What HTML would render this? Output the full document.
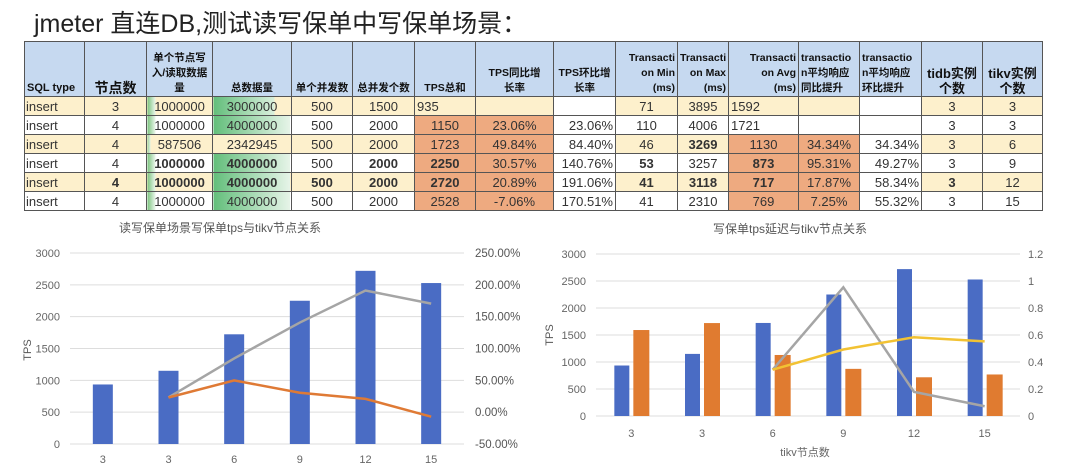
<!DOCTYPE html>
<html><head><meta charset="utf-8"><style>
body{margin:0;width:1080px;height:472px;background:#fff;overflow:hidden;position:relative;font-family:"Liberation Sans","Noto Sans CJK SC",sans-serif}
#title{position:absolute;left:34px;top:4px;font-size:25px;color:#222;white-space:nowrap}
table{position:absolute;left:24px;top:41px;border-collapse:collapse;table-layout:fixed;width:1018px}
td,th{border:1px solid #555;padding:0 2px;font-size:13px;color:#333;height:18px;white-space:nowrap;overflow:hidden;text-align:center}
th{background:#c6d9f0;font-size:10.5px;font-weight:bold;height:54px;vertical-align:bottom;white-space:nowrap;line-height:15px;color:#111}
tr.y td{background:#fdf0cc}
td.l{text-align:left;padding-left:1px}
td.r{text-align:right}
td.o{background:#eeaa80 !important}
td.b{font-weight:bold}
svg{position:absolute;top:215px}
</style></head><body>
<div id="title">jmeter 直连DB,测试读写保单中写保单场景：</div>
<table>
<colgroup><col style="width:60px"><col style="width:62px"><col style="width:66px"><col style="width:79px"><col style="width:61px"><col style="width:62px"><col style="width:61px"><col style="width:78px"><col style="width:62px"><col style="width:62px"><col style="width:51px"><col style="width:70px"><col style="width:61px"><col style="width:62px"><col style="width:61px"><col style="width:60px"></colgroup>
<tr><th style="text-align:left;font-size:11px">SQL type</th><th style="font-size:14px">节点数</th><th>单个节点写<br>入/读取数据<br>量</th><th>总数据量</th><th>单个并发数</th><th>总并发个数</th><th>TPS总和</th><th>TPS同比增<br>长率</th><th>TPS环比增<br>长率</th><th style="text-align:right">Transacti<br>on Min<br>(ms)</th><th style="text-align:right">Transacti<br>on Max<br>(ms)</th><th style="text-align:right">Transacti<br>on Avg<br>(ms)</th><th style="text-align:left">transactio<br>n平均响应<br>同比提升</th><th style="text-align:left">transactio<br>n平均响应<br>环比提升</th><th style="font-size:13px">tidb实例<br>个数</th><th style="font-size:13px">tikv实例<br>个数</th></tr>
<tr class="y"><td class="l">insert</td><td>3</td><td style="background:linear-gradient(90deg,#7cc47f,#eaf5ea 12%,#fdf0cc 12%)">1000000</td><td style="background:linear-gradient(90deg,#63be7b,#d9efdc 78%,#fdf0cc 78%)">3000000</td><td>500</td><td>1500</td><td style="text-align:left">935</td><td></td><td style="background:#fff"></td><td>71</td><td>3895</td><td style="text-align:left">1592</td><td></td><td style="background:#fff"></td><td>3</td><td>3</td></tr>
<tr><td class="l">insert</td><td>4</td><td style="background:linear-gradient(90deg,#7cc47f,#eaf5ea 12%,#fff 12%)">1000000</td><td style="background:linear-gradient(90deg,#63be7b,#e6f4e8 98%,#fff 98%)">4000000</td><td>500</td><td>2000</td><td class="o">1150</td><td class="o">23.06%</td><td class="r">23.06%</td><td>110</td><td>4006</td><td style="text-align:left">1721</td><td></td><td></td><td>3</td><td>3</td></tr>
<tr class="y"><td class="l">insert</td><td>4</td><td style="background:linear-gradient(90deg,#9ad19c,#eaf5ea 5%,#fdf0cc 5%)">587506</td><td>2342945</td><td>500</td><td>2000</td><td class="o">1723</td><td class="o">49.84%</td><td class="r" style="background:#fff">84.40%</td><td>46</td><td class="b">3269</td><td class="o">1130</td><td class="o">34.34%</td><td class="r" style="background:#fff">34.34%</td><td>3</td><td>6</td></tr>
<tr><td class="l">insert</td><td>4</td><td class="b" style="background:linear-gradient(90deg,#7cc47f,#eaf5ea 12%,#fff 12%)">1000000</td><td class="b" style="background:linear-gradient(90deg,#63be7b,#e6f4e8 98%,#fff 98%)">4000000</td><td>500</td><td class="b">2000</td><td class="o b">2250</td><td class="o">30.57%</td><td class="r">140.76%</td><td class="b">53</td><td>3257</td><td class="o b">873</td><td class="o">95.31%</td><td class="r">49.27%</td><td>3</td><td>9</td></tr>
<tr class="y"><td class="l">insert</td><td class="b">4</td><td class="b" style="background:linear-gradient(90deg,#7cc47f,#eaf5ea 12%,#fdf0cc 12%)">1000000</td><td class="b" style="background:linear-gradient(90deg,#63be7b,#e6f4e8 98%,#fdf0cc 98%)">4000000</td><td class="b">500</td><td class="b">2000</td><td class="o b">2720</td><td class="o">20.89%</td><td class="r" style="background:#fff">191.06%</td><td class="b">41</td><td class="b">3118</td><td class="o b">717</td><td class="o">17.87%</td><td class="r" style="background:#fff">58.34%</td><td class="b">3</td><td>12</td></tr>
<tr><td class="l">insert</td><td>4</td><td style="background:linear-gradient(90deg,#7cc47f,#eaf5ea 12%,#fff 12%)">1000000</td><td style="background:linear-gradient(90deg,#63be7b,#e6f4e8 98%,#fff 98%)">4000000</td><td>500</td><td>2000</td><td class="o">2528</td><td class="o">-7.06%</td><td class="r">170.51%</td><td>41</td><td>2310</td><td class="o">769</td><td class="o">7.25%</td><td class="r">55.32%</td><td>3</td><td>15</td></tr>
</table>
<svg id="c1" width="540" height="257" style="left:0"></svg>
<svg id="c2" width="540" height="257" style="left:540px"></svg>
<script>
const cats = ['3','3','6','9','12','15'];
const tps = [935,1150,1723,2250,2720,2528];
const tpsYoY = [null,23.06,49.84,30.57,20.89,-7.06];
const tpsMoM = [null,23.06,84.40,140.76,191.06,170.51];
const avgMs = [1592,1721,1130,873,717,769];
const latYoY = [null,null,0.3434,0.9531,0.1787,0.0725];
const latMoM = [null,null,0.3434,0.4927,0.5832,0.5532];
const leftTicks = [0,500,1000,1500,2000,2500,3000];
const pctTicks = [-50,0,50,100,150,200,250];
const ratioTicks = [0,0.2,0.4,0.6,0.8,1,1.2];
const NS='http://www.w3.org/2000/svg';
function mk(svg,tag,attrs,text){const e=document.createElementNS(NS,tag);for(const k in attrs)e.setAttribute(k,attrs[k]);if(text!==undefined)e.textContent=text;svg.appendChild(e);return e;}
function line(svg,vals,xf,yf,color,name){let pts=[];vals.forEach((v,i)=>{if(v!==null)pts.push(xf(i)+','+yf(v));});const p=mk(svg,'polyline',{points:pts.join(' '),fill:'none',stroke:color,'stroke-width':2.5});}
(function(){
const s=document.getElementById('c1');
const x0=70,x1=464,yT=38,yB=229;
const band=(x1-x0)/cats.length;
const xc=i=>x0+band*(i+0.5);
const y=v=>yB-(v/3000)*(yB-yT);
const yr=v=>yB-((v+50)/300)*(yB-yT);
const t=mk(s,'text',{x:220,y:17,'font-size':12,fill:'#555','text-anchor':'middle'},'读写保单场景写保单tps与tikv节点关系');

leftTicks.forEach(v=>{mk(s,'line',{x1:x0,x2:x1,y1:y(v),y2:y(v),stroke:'#ddd'});const e=mk(s,'text',{x:60,y:y(v)+4,'font-size':11,fill:'#666','text-anchor':'end'},v);});
pctTicks.forEach(v=>{const e=mk(s,'text',{x:475,y:yr(v)+4,'font-size':11.5,fill:'#555'},v.toFixed(2)+'%');});
const yl=mk(s,'text',{x:0,y:0,'font-size':11,fill:'#555','text-anchor':'middle',transform:'translate(31,135) rotate(-90)'},'TPS');

tps.forEach((v,i)=>{const r=mk(s,'rect',{x:xc(i)-10,y:y(v),width:20,height:yB-y(v),fill:'#4a6cc4'});});
cats.forEach((c,i)=>{const e=mk(s,'text',{x:xc(i),y:248,'font-size':11,fill:'#666','text-anchor':'middle'},c);});
line(s,tpsMoM,xc,yr,'#a5a5a5','tps-mom-line');
line(s,tpsYoY,xc,yr,'#df7a35','tps-yoy-line');
})();
(function(){
const s=document.getElementById('c2');
const x0=596,x1=1020,yT=39,yB=201;
const band=(x1-x0)/cats.length;
const xc=i=>x0-540+band*(i+0.5);
const y=v=>yB-(v/3000)*(yB-yT);
const yr=v=>yB-(v/1.2)*(yB-yT);
const t=mk(s,'text',{x:250,y:18,'font-size':12,fill:'#555','text-anchor':'middle'},'写保单tps延迟与tikv节点关系');

leftTicks.forEach(v=>{mk(s,'line',{x1:x0-540,x2:x1-540,y1:y(v),y2:y(v),stroke:'#ddd'});const e=mk(s,'text',{x:46,y:y(v)+4,'font-size':11,fill:'#666','text-anchor':'end'},v);});
ratioTicks.forEach(v=>{const e=mk(s,'text',{x:488,y:yr(v)+4,'font-size':11,fill:'#666'},String(+v.toFixed(1)));});
const yl=mk(s,'text',{x:0,y:0,'font-size':11,fill:'#555','text-anchor':'middle',transform:'translate(13,120) rotate(-90)'},'TPS');

tps.forEach((v,i)=>{const r=mk(s,'rect',{x:xc(i)-17,y:y(v),width:15,height:yB-y(v),fill:'#4a6cc4'});});
avgMs.forEach((v,i)=>{const r=mk(s,'rect',{x:xc(i)+2,y:y(v),width:16,height:yB-y(v),fill:'#e07b30'});});
cats.forEach((c,i)=>{const e=mk(s,'text',{x:xc(i),y:222,'font-size':11,fill:'#666','text-anchor':'middle'},c);});
const xt=mk(s,'text',{x:265,y:241,'font-size':11,fill:'#666','text-anchor':'middle'},'tikv节点数');

line(s,latYoY,xc,yr,'#a5a5a5','latency-yoy-line');
line(s,latMoM,xc,yr,'#f2c233','latency-mom-line');
})();
</script>
</body></html>
